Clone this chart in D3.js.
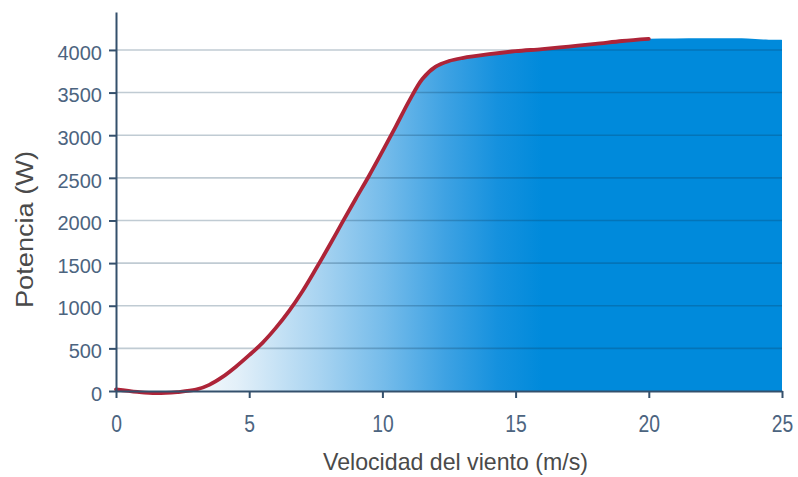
<!DOCTYPE html>
<html>
<head>
<meta charset="utf-8">
<script src="https://cdn.jsdelivr.net/npm/d3@7"></script>
<style>
  html, body { margin: 0; padding: 0; background: #ffffff; }
  svg { display: block; }
  text { font-family: "Liberation Sans", Arial, sans-serif; }
</style>
</head>
<body>
<svg id="chart" width="798" height="477"></svg>
<script>
// Power curve of a small wind turbine: wind speed (m/s) vs power (W)
const windSpeed = [0, 0.8, 1.5, 2.3, 3, 3.5, 4, 4.5, 5, 5.5, 6, 6.5, 7, 7.5, 8, 8.5, 9, 9.5, 10, 10.5, 11, 11.5, 12, 12.5, 13, 14, 15, 16, 17, 18, 19, 20];
const power     = [20, -10, -25, -12, 15, 72, 165, 285, 420, 565, 740, 940, 1170, 1430, 1700, 1980, 2255, 2525, 2810, 3100, 3400, 3660, 3805, 3870, 3905, 3950, 3985, 4010, 4040, 4070, 4105, 4130];

// Shaded region keeps going past the end of the measured curve
const tailSpeed = [21, 22, 23, 23.7, 24.3, 25];
const tailPower = [4135, 4137, 4137, 4135, 4122, 4118];

const xTicks = [0, 5, 10, 15, 20, 25];
const yTicks = [0, 500, 1000, 1500, 2000, 2500, 3000, 3500, 4000];
const gridValues = [500, 1000, 1500, 2000, 2500, 3000, 3500, 4000];

const xLabel = "Velocidad del viento (m/s)";
const yLabel = "Potencia (W)";

const svg = d3.select("#chart");

const x = d3.scaleLinear().domain([0, 25]).range([116, 782]);
const y = d3.scaleLinear().domain([0, 4445]).range([391, 12]);

const curvePts = windSpeed.map((s, i) => ({ s, p: power[i] }));
const areaPts = curvePts.concat(tailSpeed.map((s, i) => ({ s, p: tailPower[i] })));

// Horizontal white-to-blue gradient for the area under the curve
const defs = svg.append("defs");
const grad = defs.append("linearGradient")
  .attr("id", "fillGrad")
  .attr("gradientUnits", "userSpaceOnUse")
  .attr("x1", x(2)).attr("x2", x(16))
  .attr("y1", 0).attr("y2", 0);
[
  [0.00, "#ffffff"],
  [0.18, "#e3f0f9"],
  [0.40, "#a9d4f1"],
  [0.58, "#74bbea"],
  [0.74, "#3ea2e3"],
  [0.88, "#1591de"],
  [1.00, "#008adb"]
].forEach(([o, c]) => grad.append("stop").attr("offset", o).attr("stop-color", c));

const smooth = d3.curveCatmullRom.alpha(0.5);

const area = d3.area()
  .x(d => x(d.s))
  .y0(y(0))
  .y1(d => y(Math.max(0, d.p)))
  .curve(smooth);

svg.append("path")
  .datum(areaPts)
  .attr("d", area)
  .attr("fill", "url(#fillGrad)");

// Gridlines, drawn over the fill so they darken on blue
svg.append("g")
  .selectAll("line")
  .data(gridValues)
  .join("line")
  .attr("x1", x(0)).attr("x2", x(25))
  .attr("y1", d => y(d)).attr("y2", d => y(d))
  .attr("stroke", "#0d3556")
  .attr("stroke-opacity", 0.26)
  .attr("stroke-width", 1.6);

// Power curve
const line = d3.line()
  .x(d => x(d.s))
  .y(d => y(d.p))
  .curve(smooth);

svg.append("path")
  .datum(curvePts)
  .attr("d", line)
  .attr("fill", "none")
  .attr("stroke", "#ad2438")
  .attr("stroke-width", 3.8)
  .attr("stroke-linecap", "round");

// Axes
const axisColor = "#34506c";

const yAxis = svg.append("g")
  .attr("transform", `translate(${x(0)},0)`)
  .call(d3.axisLeft(y).tickValues(yTicks).tickSize(7).tickSizeOuter(0).tickPadding(7).tickFormat(d3.format("d")));

const xAxis = svg.append("g")
  .attr("transform", `translate(0,${y(0)})`)
  .call(d3.axisBottom(x).tickValues(xTicks).tickSize(7).tickSizeOuter(0).tickFormat(d3.format("d")));

[yAxis, xAxis].forEach(g => {
  g.select(".domain").attr("stroke", axisColor).attr("stroke-width", 2);
  g.selectAll(".tick line").attr("stroke", axisColor).attr("stroke-width", 2);
});

yAxis.selectAll(".tick text")
  .attr("fill", "#4c6480")
  .attr("font-size", 20)
  .attr("dy", "0.46em");

xAxis.selectAll(".tick text")
  .attr("fill", "#4c6480")
  .attr("font-size", 23)
  .attr("y", 41)
  .attr("dy", 0)
  .attr("transform", "scale(0.84,1)");

// Axis titles
svg.append("text")
  .attr("x", 323).attr("y", 469.5)
  .attr("font-size", 24)
  .attr("fill", "#4a4a4a")
  .attr("textLength", 265)
  .attr("lengthAdjust", "spacingAndGlyphs")
  .text(xLabel);

svg.append("text")
  .attr("transform", "translate(33,308) rotate(-90)")
  .attr("font-size", 23)
  .attr("fill", "#4a4a4a")
  .attr("textLength", 157)
  .attr("lengthAdjust", "spacingAndGlyphs")
  .text(yLabel);
</script>
</body>
</html>
